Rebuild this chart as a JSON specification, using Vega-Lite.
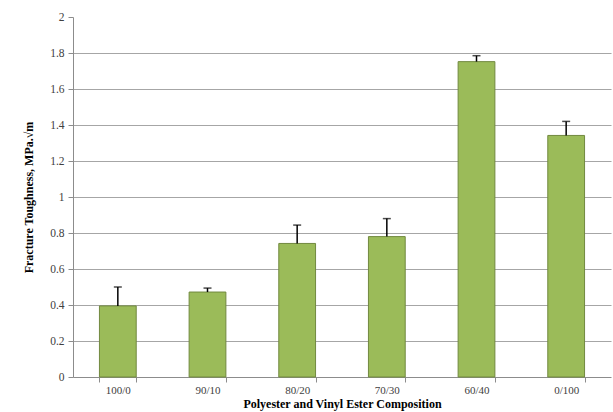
{
  "$schema": "https://vega.github.io/schema/vega-lite/v6.json",
  "autosize": {"type": "none"},
  "width": 538,
  "height": 360,
  "padding": {"left": 73, "top": 17, "right": 2, "bottom": 35},
  "background": "white",
  "config": {"view": {"stroke": null}, "font": "Liberation Serif"},
  "data": {"values": [
    {"comp": "100/0", "value": 0.395, "err": 0.105},
    {"comp": "90/10", "value": 0.472, "err": 0.022},
    {"comp": "80/20", "value": 0.742, "err": 0.102},
    {"comp": "70/30", "value": 0.78, "err": 0.1},
    {"comp": "60/40", "value": 1.752, "err": 0.033},
    {"comp": "0/100", "value": 1.342, "err": 0.078}
  ]},
  "transform": [{"calculate": "datum.value + datum.err", "as": "hi"}],
  "encoding": {
    "x": {
      "field": "comp", "type": "nominal", "sort": null,
      "scale": {"paddingInner": 0.59, "paddingOuter": 0.295},
      "axis": {
        "title": "Polyester and Vinyl Ester Composition",
        "titleFont": "Liberation Serif", "titleFontWeight": "bold", "titleFontSize": 12,
        "titleColor": "#000000", "titlePadding": 3,
        "labelAngle": 0, "labelFont": "Liberation Serif", "labelFontSize": 11,
        "labelColor": "#404040", "labelPadding": 2,
        "domainColor": "#8c8c8c", "tickColor": "#8c8c8c", "tickSize": 5,
        "tickBand": "extent", "grid": false
      }
    },
    "y": {
      "field": "value", "type": "quantitative",
      "scale": {"domain": [0, 2], "nice": false},
      "axis": {
        "title": "Fracture Toughness, MPa.√m",
        "titleFont": "Liberation Serif", "titleFontWeight": "bold", "titleFontSize": 12,
        "titleColor": "#000000", "titlePadding": 14,
        "values": [0, 0.2, 0.4, 0.6, 0.8, 1, 1.2, 1.4, 1.6, 1.8, 2],
        "format": "~g",
        "labelFont": "Liberation Serif", "labelFontSize": 11.5, "labelColor": "#404040",
        "labelPadding": 4,
        "domainColor": "#8c8c8c", "tickColor": "#8c8c8c", "tickSize": 5,
        "grid": true,
        "gridColor": {"condition": {"test": "datum.value >= 2 || datum.value <= 0", "value": "transparent"}, "value": "#a6a6a6"},
        "gridWidth": 1.2
      }
    }
  },
  "layer": [
    {
      "mark": {"type": "bar", "fill": "#9BBB59", "stroke": "#71893F", "strokeWidth": 1}
    },
    {
      "mark": {"type": "rule", "color": "#000000", "strokeWidth": 1.5},
      "encoding": {
        "y2": {"field": "hi"}
      }
    },
    {
      "mark": {"type": "tick", "color": "#000000", "size": 8, "thickness": 1.5},
      "encoding": {
        "y": {"field": "hi", "type": "quantitative", "title": "Fracture Toughness, MPa.√m"}
      }
    }
  ]
}
